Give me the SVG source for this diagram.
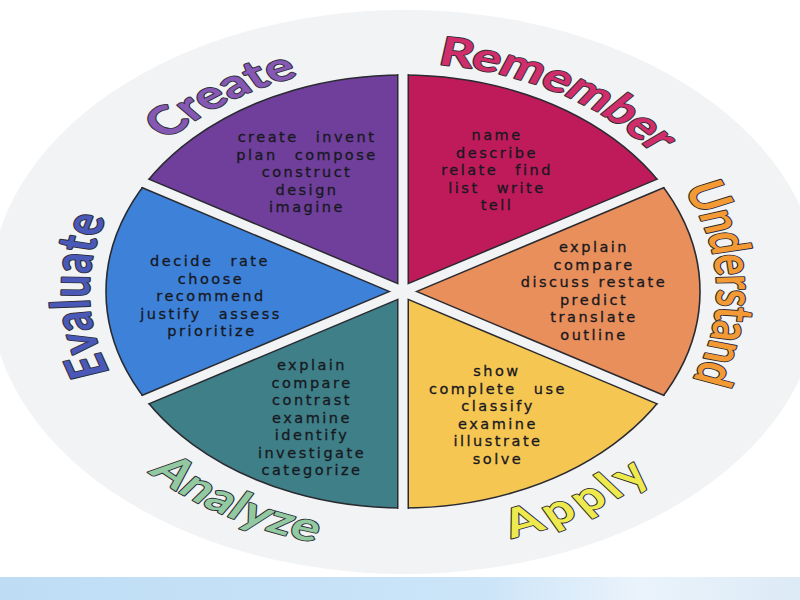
<svg xmlns="http://www.w3.org/2000/svg" xmlns:xlink="http://www.w3.org/1999/xlink" width="800" height="600" viewBox="0 0 800 600">
  <style>
    .verb { font-family: "DejaVu Sans", "Liberation Sans", sans-serif; font-size: 14.5px; letter-spacing: 2.5px; fill: #18181f; stroke: #18181f; stroke-width: 0.3px; text-anchor: middle; }
    .wide { word-spacing: 10px; }
    .label { font-family: Lato, "Open Sans", "Liberation Sans", sans-serif; font-weight: 700; font-size: 54px; stroke: #2e2e36; stroke-width: 2.4px; stroke-linejoin: round; paint-order: stroke fill; }
    .seg { stroke: none; }
  </style>
  <defs>
    <linearGradient id="band" x1="0" y1="0" x2="1" y2="0">
      <stop offset="0" stop-color="#BEDDF5"/>
      <stop offset="0.6" stop-color="#CBE4F8"/>
      <stop offset="0.8" stop-color="#EAF3FB"/>
      <stop offset="1" stop-color="#DCEAF6"/>
    </linearGradient>
    <clipPath id="wheelClip">
      <ellipse cx="403" cy="291.5" rx="298" ry="217.5"/>
    </clipPath>
    <path id="arcRemember" d="M -236.3 -206.7 A 314 314 0 0 1 298.9 96.3"/>
    <path id="arcUnderstand" d="M 43.7 -310.9 A 314 314 0 0 1 65.3 307.1"/>
    <path id="arcEvaluate" d="M -49.1 310.1 A 314 314 0 0 1 -59.9 -308.2"/>
    <path id="arcCreate" d="M -286.8 127.7 A 314 314 0 0 1 225.9 -218.1"/>
    <path id="arcApply" d="M -268.7 233.6 A 356 356 0 0 0 332.4 -127.6"/>
    <path id="arcAnalyze" d="M -334.5 -121.8 A 356 356 0 0 0 272.7 228.8"/>
  </defs>

  <rect x="0" y="0" width="800" height="600" fill="#FFFFFF"/>
  <rect x="0" y="577" width="800" height="23" fill="url(#band)"/>
  <ellipse id="disc" cx="405" cy="292" rx="415" ry="282" fill="#F1F3F5"/>

  <g id="node-remember">
    <path class="seg" fill="#BF1B5B" d="M403 291.5 L403 75 A297 216.5 0 0 1 660.2 183.25 Z"/>
    <text class="verb" x="497" y="140"><tspan x="497" y="140">name</tspan><tspan x="497" y="157.5">describe</tspan><tspan class="wide" x="497" y="175">relate find</tspan><tspan class="wide" x="497" y="192.5">list write</tspan><tspan x="497" y="210">tell</tspan></text>
    <g transform="translate(403 291.5) scale(1 0.727)">
      <text class="label" fill="#D02E6A"><textPath href="#arcRemember" xlink:href="#arcRemember" startOffset="50%" text-anchor="middle" textLength="255" lengthAdjust="spacing">Remember</textPath></text>
    </g>
  </g>

  <g id="node-understand">
    <path class="seg" fill="#E88F5B" d="M403 291.5 L660.2 183.25 A297 216.5 0 0 1 660.2 399.75 Z"/>
    <text class="verb" x="594" y="252"><tspan x="594" y="252">explain</tspan><tspan x="594" y="269.5">compare</tspan><tspan x="594" y="287">discuss restate</tspan><tspan x="594" y="304.5">predict</tspan><tspan x="594" y="322">translate</tspan><tspan x="594" y="339.5">outline</tspan></text>
    <g transform="translate(403 291.5) scale(1 0.727)">
      <text class="label" fill="#F39A35"><textPath href="#arcUnderstand" xlink:href="#arcUnderstand" startOffset="50%" text-anchor="middle" textLength="272" lengthAdjust="spacing">Understand</textPath></text>
    </g>
  </g>

  <g id="node-apply">
    <path class="seg" fill="#F5C652" d="M403 291.5 L660.2 399.75 A297 216.5 0 0 1 403 508 Z"/>
    <text class="verb" x="498" y="376"><tspan x="497" y="376">show</tspan><tspan class="wide" x="498" y="393.5">complete use</tspan><tspan x="498" y="411">classify</tspan><tspan x="498" y="428.5">examine</tspan><tspan x="498" y="446">illustrate</tspan><tspan x="498" y="463.5">solve</tspan></text>
    <g transform="translate(403 291.5) scale(1 0.727)">
      <text class="label" fill="#EEEA4E"><textPath href="#arcApply" xlink:href="#arcApply" startOffset="50%" text-anchor="middle" textLength="165" lengthAdjust="spacing">Apply</textPath></text>
    </g>
  </g>

  <g id="node-analyze">
    <path class="seg" fill="#3E7F88" d="M403 291.5 L403 508 A297 216.5 0 0 1 145.8 399.75 Z"/>
    <text class="verb" x="312" y="370"><tspan x="312" y="370">explain</tspan><tspan x="312" y="387.5">compare</tspan><tspan x="312" y="405">contrast</tspan><tspan x="312" y="422.5">examine</tspan><tspan x="312" y="440">identify</tspan><tspan x="312" y="457.5">investigate</tspan><tspan x="312" y="475">categorize</tspan></text>
    <g transform="translate(403 291.5) scale(1 0.727)">
      <text class="label" fill="#93C9A0"><textPath href="#arcAnalyze" xlink:href="#arcAnalyze" startOffset="50%" text-anchor="middle" textLength="195" lengthAdjust="spacing">Analyze</textPath></text>
    </g>
  </g>

  <g id="node-evaluate">
    <path class="seg" fill="#3D82D8" d="M403 291.5 L145.8 399.75 A297 216.5 0 0 1 145.8 183.25 Z"/>
    <text class="verb" x="211" y="266"><tspan class="wide" x="210" y="266">decide rate</tspan><tspan x="211" y="283.5">choose</tspan><tspan x="211" y="301">recommend</tspan><tspan class="wide" x="211" y="318.5">justify assess</tspan><tspan x="212" y="336">prioritize</tspan></text>
    <g transform="translate(403 291.5) scale(1 0.727)">
      <text class="label" fill="#4A58B8"><textPath href="#arcEvaluate" xlink:href="#arcEvaluate" startOffset="50%" text-anchor="middle" textLength="218" lengthAdjust="spacing">Evaluate</textPath></text>
    </g>
  </g>

  <g id="node-create">
    <path class="seg" fill="#6F3F9B" d="M403 291.5 L145.8 183.25 A297 216.5 0 0 1 403 75 Z"/>
    <text class="verb" x="307" y="142"><tspan class="wide" x="307" y="142">create invent</tspan><tspan class="wide" x="307" y="159.5">plan compose</tspan><tspan x="307" y="177">construct</tspan><tspan x="307" y="194.5">design</tspan><tspan x="307" y="212">imagine</tspan></text>
    <g transform="translate(403 291.5) scale(1 0.727)">
      <text class="label" fill="#8458B3"><textPath href="#arcCreate" xlink:href="#arcCreate" startOffset="50%" text-anchor="middle" textLength="160" lengthAdjust="spacing">Create</textPath></text>
    </g>
  </g>

  <g id="connectors">
    <ellipse cx="403" cy="291.5" rx="297" ry="216.5" fill="none" stroke="#2a2a30" stroke-width="1.6"/>
    <g clip-path="url(#wheelClip)" stroke="#2a2a30" stroke-width="12" stroke-linecap="butt">
      <line x1="403" y1="291.5" x2="403" y2="66"/>
      <line x1="403" y1="291.5" x2="670.5" y2="179.2"/>
      <line x1="403" y1="291.5" x2="670.5" y2="403.8"/>
      <line x1="403" y1="291.5" x2="403" y2="517"/>
      <line x1="403" y1="291.5" x2="135.5" y2="403.8"/>
      <line x1="403" y1="291.5" x2="135.5" y2="179.2"/>
    </g>
    <g stroke="#F1F3F5" stroke-width="9" stroke-linecap="butt">
      <line x1="403" y1="291.5" x2="403" y2="66"/>
      <line x1="403" y1="291.5" x2="670.5" y2="179.2"/>
      <line x1="403" y1="291.5" x2="670.5" y2="403.8"/>
      <line x1="403" y1="291.5" x2="403" y2="517"/>
      <line x1="403" y1="291.5" x2="135.5" y2="403.8"/>
      <line x1="403" y1="291.5" x2="135.5" y2="179.2"/>
    </g>
  </g>
</svg>
